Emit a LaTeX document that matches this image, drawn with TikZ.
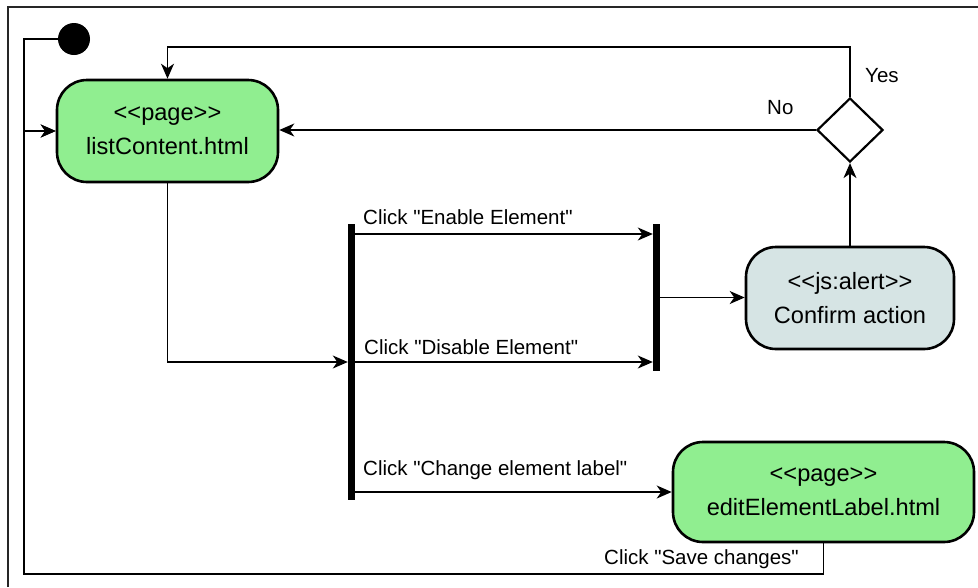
\documentclass[tikz,border=0pt]{standalone}
\usepackage{fontspec}
\setmainfont{Liberation Sans}[Ligatures=TeXOff]
\usetikzlibrary{arrows.meta,shapes.geometric}
\definecolor{pagegreen}{RGB}{144,238,144}
\definecolor{alertgray}{RGB}{214,228,228}
\tikzset{
  pagebox/.style={draw=black, line width=2.6pt, rounded corners=30pt, fill=pagegreen,
    align=center, inner sep=0pt, font=\fontsize{23.6}{34}\selectfont},
  alertbox/.style={pagebox, fill=alertgray},
  bar/.style={fill=black, inner sep=0pt, minimum width=7pt},
  conn/.style={line width=1.4pt, draw=black},
  arr/.style={conn, -{Stealth[length=15pt, width=13pt, inset=4.5pt]}},
  lbl/.style={font=\fontsize{20.5}{24}\selectfont, inner sep=0pt},
}
\begin{document}
\begin{tikzpicture}[x=1pt, y=-1pt]
\useasboundingbox (0,0) rectangle (978,587);

% partial outer frame
\draw[line width=1.5pt, black!85] (8,587) -- (8,7) -- (978,7);

% activity nodes
\node[circle, fill=black, minimum size=32pt, inner sep=0pt] (init) at (74,39) {};
\node[pagebox, minimum width=221pt, minimum height=102pt] (list) at (167.5,131)
  {<<page>>\\listContent.html};
\node[alertbox, minimum width=208pt, minimum height=102pt] (conf) at (850,298)
  {<<js:alert>>\\Confirm action};
\node[pagebox, minimum width=301pt, minimum height=100pt] (edit) at (823.5,492)
  {<<page>>\\editElementLabel.html};
\node[diamond, draw=black, line width=2.2pt, fill=white, minimum width=66pt,
  minimum height=64pt, inner sep=0pt] (dec) at (850,130) {};

% fork and join bars
\node[bar, minimum height=276pt] (fork) at (351.5,362) {};
\node[bar, minimum height=147pt] (join) at (656.5,297.5) {};

% routing corners
\coordinate (lx) at (24,574);
\coordinate (tp) at (850,47);

% start -> list
\draw[arr] (init.west) -| (lx |- list.west) -- (list.west);
% save changes loops back to the list page
\draw[arr] (edit.south) |- (lx) |- (list.west);
% decision -> list (yes / no)
\draw[arr] (dec.north) -- (tp) -| (list.north);
\draw[arr] (dec.west) -- (dec.west -| list.east);
% list -> fork
\draw[arr] (list.south) |- (fork.west);
% fork branches
\draw[arr] (fork.east |- 0,234) -- (join.west |- 0,234);
\draw[arr] (fork.east |- 0,362) -- (join.west |- 0,362);
\draw[arr] (edit.west -| fork.east) -- (edit.west);
% join -> alert -> decision
\draw[arr] (join.east) -- (join.east -| conf.west);
\draw[arr] (conf.north) -- (dec.south);

% labels
\node[lbl, anchor=west] (lenable) at (363,217) {Click "Enable Element"};
\node[lbl, anchor=west] (ldisable) at (364,347) {Click "Disable Element"};
\node[lbl, anchor=west] (lchange) at (363,470) {Click "Change element label"};
\node[lbl, anchor=east] (lsave) at (799,559) {Click "Save changes"};
\node[lbl, anchor=west] (lyes) at (865,76) {Yes};
\node[lbl, anchor=west] (lno) at (767,108) {No};
\end{tikzpicture}
\end{document}
